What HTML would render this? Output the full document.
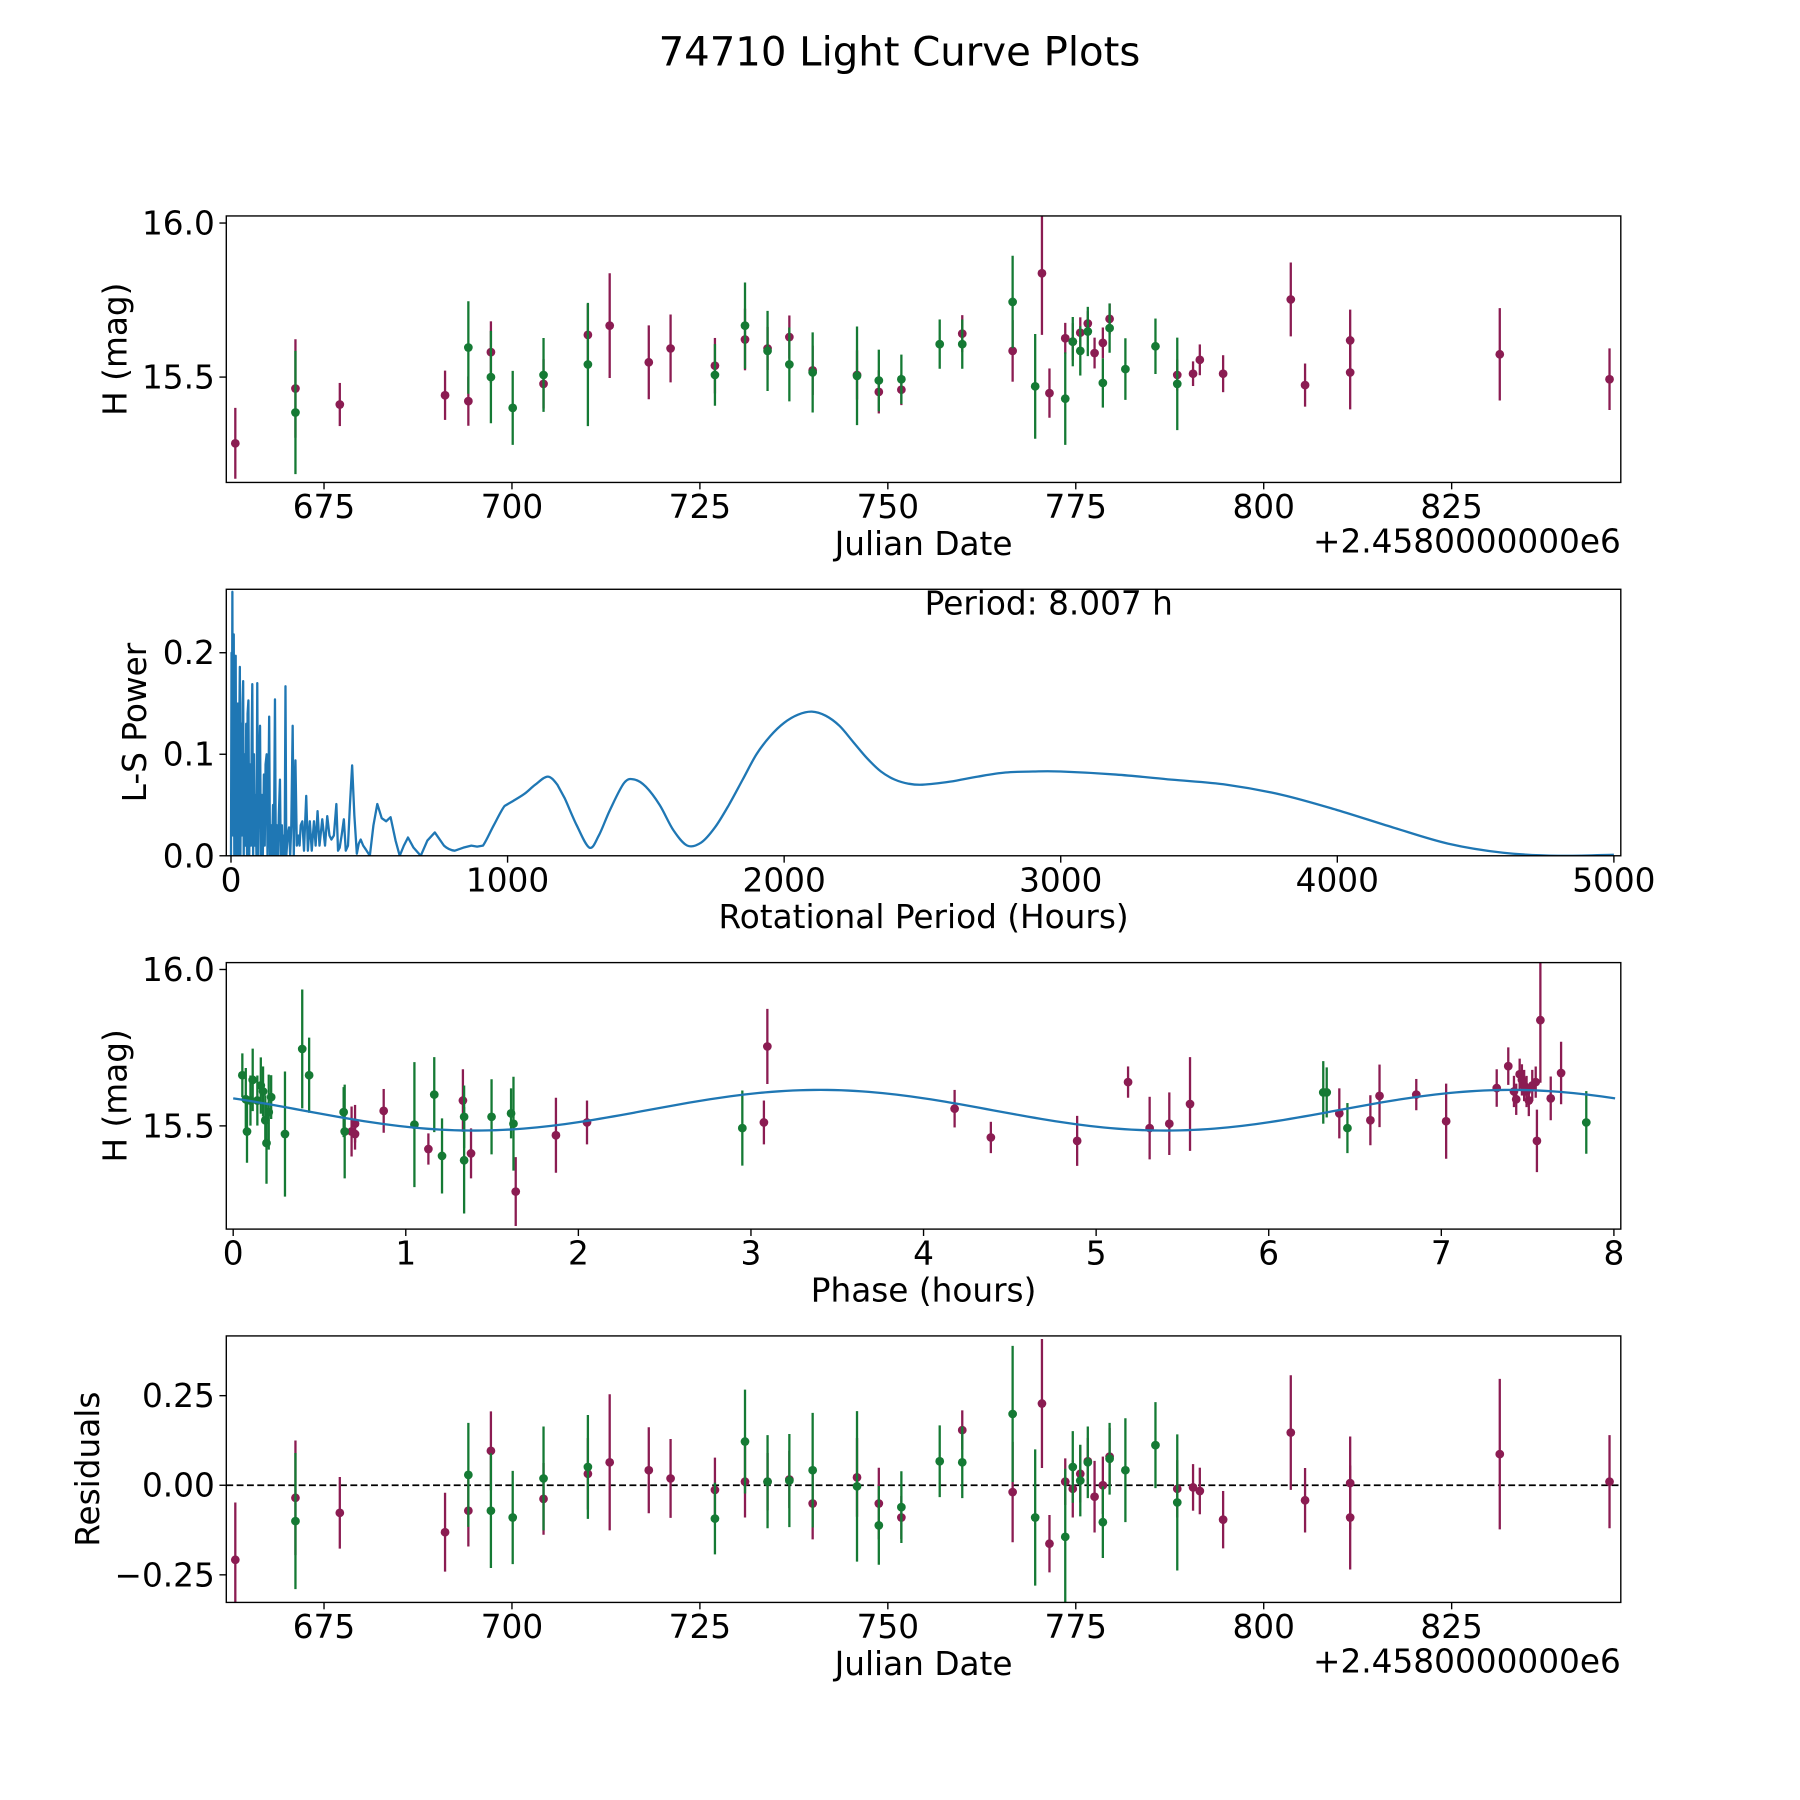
<!DOCTYPE html>
<html><head><meta charset="utf-8"><style>
html,body{margin:0;padding:0;background:#fff}
svg{display:block;font-family:"DejaVu Sans","Liberation Sans",sans-serif}
</style></head><body>
<svg id="fig" width="1800" height="1800" viewBox="0 0 1567 1567" xmlns="http://www.w3.org/2000/svg">
<rect width="1567" height="1567" fill="#fff"/>
<text x="783" y="57" font-size="35" text-anchor="middle">74710 Light Curve Plots</text>
<g id="layer"></g>
</svg>
<script>
// ---------- Data ----------
const lcJdP=[663.2,671.2,677.1,691.1,694.2,697.2,704.2,710.1,713.0,718.2,721.1,727.0,731.0,734.0,736.9,740.0,745.9,748.8,751.8,759.9,766.6,770.5,771.5,773.6,774.6,775.6,776.6,777.5,778.6,779.5,788.5,790.6,791.5,794.6,803.6,805.5,811.5,811.5,831.4,846.0];
const lcMagP=[15.285,15.463,15.411,15.441,15.422,15.581,15.478,15.637,15.667,15.548,15.593,15.537,15.622,15.593,15.630,15.522,15.507,15.452,15.459,15.641,15.585,15.837,15.448,15.626,15.615,15.644,15.674,15.578,15.611,15.689,15.507,15.511,15.556,15.511,15.752,15.474,15.619,15.515,15.574,15.493];
const lcErrP=[.115,.16,.07,.08,.08,.1,.08,.1,.17,.12,.11,.09,.1,.07,.07,.08,.08,.07,.05,.06,.1,.2,.08,.05,.06,.05,.04,.05,.05,.05,.05,.04,.05,.06,.12,.07,.1,.12,.15,.1];
const lcJdG=[671.2,694.2,697.2,700.1,704.2,710.1,727.0,731.0,734.0,736.9,740.0,745.9,748.8,751.8,756.9,759.9,766.6,769.6,773.6,774.6,775.6,776.6,778.6,779.5,781.6,785.6,788.5];
const lcMagG=[15.385,15.596,15.5,15.4,15.507,15.541,15.507,15.667,15.585,15.541,15.515,15.504,15.489,15.493,15.607,15.607,15.744,15.47,15.43,15.615,15.585,15.648,15.481,15.659,15.526,15.6,15.478];
const lcErrG=[.2,.15,.15,.12,.12,.2,.1,.14,.13,.12,.13,.16,.1,.08,.08,.08,.15,.17,.15,.08,.08,.08,.08,.08,.1,.09,.15];

const resP=[-.208,-.035,-.077,-.131,-.071,.096,-.038,.032,.064,.042,.019,-.013,.010,.010,.016,-.051,.022,-.051,-.090,.154,-.019,.228,-.163,.010,-.010,.032,.067,-.032,0,.080,-.010,-.006,-.016,-.096,.147,-.042,.006,-.090,.087,.010];
const resErrP=[.16,.16,.1,.11,.1,.11,.1,.1,.19,.12,.11,.09,.1,.08,.08,.1,.11,.1,.06,.055,.14,.18,.08,.065,.08,.08,.065,.1,.08,.08,.08,.065,.065,.08,.16,.09,.13,.145,.21,.13];
const resG=[-.1,.029,-.071,-.090,.019,.051,-.093,.122,.010,.013,.042,-.003,-.112,-.061,.067,.064,.199,-.090,-.144,.051,.013,.064,-.103,.074,.042,.112,-.048];
const resErrG=[.19,.145,.16,.13,.145,.145,.1,.145,.13,.13,.16,.21,.11,.1,.1,.1,.19,.19,.19,.1,.1,.1,.1,.1,.145,.12,.19];

const phG=[0.053,0.073,0.08,0.1,0.113,0.14,0.16,0.173,0.186,0.193,0.206,0.22,0.3,0.4,0.44,0.64,0.646,1.05,1.165,1.21,1.338,1.338,1.497,1.61,1.624,2.95,6.316,6.336,6.456,7.84];
const phMagG=[15.662,15.585,15.482,15.581,15.647,15.581,15.629,15.61,15.518,15.445,15.544,15.592,15.474,15.746,15.662,15.544,15.482,15.504,15.6,15.404,15.529,15.39,15.529,15.54,15.507,15.493,15.607,15.607,15.493,15.511];
const phErrG=[.07,.1,.1,.08,.1,.08,.09,.08,.08,.13,.12,.07,.2,.19,.12,.08,.15,.2,.12,.12,.1,.17,.12,.08,.15,.12,.1,.08,.08,.1];
const phP=[0.686,0.706,0.706,0.872,1.131,1.331,1.378,1.637,1.87,2.05,3.075,3.095,4.18,4.39,4.89,5.185,5.31,5.424,5.544,6.409,6.589,6.642,6.855,7.028,7.321,7.388,7.421,7.434,7.454,7.467,7.48,7.494,7.507,7.527,7.547,7.554,7.574,7.634,7.694];
const phMagP=[15.482,15.507,15.474,15.548,15.426,15.581,15.412,15.29,15.47,15.511,15.511,15.754,15.555,15.463,15.452,15.64,15.493,15.507,15.57,15.54,15.518,15.596,15.6,15.515,15.621,15.691,15.61,15.585,15.665,15.647,15.629,15.61,15.581,15.629,15.64,15.452,15.838,15.588,15.669];
const phErrP=[.08,.06,.05,.07,.05,.1,.08,.11,.12,.07,.07,.12,.06,.05,.08,.05,.1,.1,.15,.08,.08,.1,.05,.12,.06,.06,.05,.05,.05,.05,.05,.05,.05,.05,.05,.1,.2,.07,.1];
const modelMean=15.55, modelAmp=0.065, modelPeakPhase=3.4, modelCycle=4.0035, modelPeriod=8.007;

const lsPeriod=[0,2,3,5,7,8,10,12,14,17,19,21,23,25,27,29,32,34,37,40,42,44,46,49,52,55,58,60,63,66,69,72,75,77,80,83,86,89,92,95,98,101,105,108,112,115,119,122,125,129,132,135,138,141,145,148,152,155,159,162,166,170,173,177,180,184,187,191,194,197,200,205,210,214,218,223,227,233,238,243,248,252,258,264,272,278,285,292,300,306,313,320,330,340,348,356,363,372,381,387,393,400,408,415,423,430,438,446,455,462,469,478,488,502,515,529,545,561,577,595,610,625,640,660,686,710,737,770,809,840,869,890,911,950,989,1020,1061,1100,1145,1180,1206,1250,1296,1330,1370,1422,1460,1500,1550,1600,1650,1700,1750,1800,1850,1900,1950,2000,2050,2100,2150,2200,2250,2300,2350,2400,2450,2500,2600,2700,2800,2900,3000,3200,3400,3600,3800,4000,4200,4400,4600,4800,5000];
const lsPower=[0,0.2,0.05,0.26,0.02,0.15,0.218,0,0.12,0.197,0,0.14,0.02,0.15,0,0.1,0.186,0,0.13,0.02,0.15,0.172,0,0.1,0.01,0.13,0,0.14,0.153,0,0.09,0.01,0.12,0.169,0,0.1,0.01,0.06,0,0.17,0,0.08,0.128,0,0.06,0,0.08,0.01,0.09,0.1,0,0.05,0.137,0,0.03,0,0.05,0,0.154,0,0.03,0,0.04,0.075,0,0.03,0,0.02,0,0.167,0,0.02,0.028,0,0.03,0.128,0,0.094,0.01,0.02,0.01,0.03,0.034,0.005,0.059,0.005,0.034,0.005,0.034,0.01,0.044,0.01,0.036,0.01,0.039,0.02,0.016,0.02,0.051,0.005,0.008,0.02,0.036,0.005,0.01,0.05,0.089,0.04,0.002,0.012,0.016,0.01,0.006,0,0.03,0.051,0.037,0.034,0.038,0.015,0,0.01,0.018,0.008,0,0.015,0.023,0.01,0.005,0.008,0.01,0.009,0.01,0.03,0.049,0.054,0.061,0.07,0.078,0.07,0.057,0.03,0.008,0.02,0.045,0.072,0.075,0.068,0.05,0.025,0.01,0.013,0.028,0.05,0.075,0.1,0.118,0.131,0.139,0.142,0.138,0.128,0.112,0.096,0.083,0.075,0.071,0.07,0.073,0.078,0.082,0.083,0.083,0.08,0.075,0.07,0.06,0.045,0.028,0.012,0.003,0,0.001];

const jdTicks=[675,700,725,750,775,800,825];
const magTicks=[15.5,16.0];
const lsXTicks=[0,1000,2000,3000,4000,5000];
const lsYTicks=[0,0.1,0.2];
const phTicks=[0,1,2,3,4,5,6,7,8];
const resTicks=[-0.25,0,0.25];

// ---------- Drawing ----------
const NS='http://www.w3.org/2000/svg';
const layer=document.getElementById('layer');
const PURPLE='#8b1c52', GREEN='#157a34', BLUE='#1f77b4';
const L=197,R=1411,H=232;
const TICK=28.5, LAB=28.5;
function mk(tag,attrs,parent){const e=document.createElementNS(NS,tag);for(const k in attrs)e.setAttribute(k,attrs[k]);(parent||layer).appendChild(e);return e;}
function lin(d0,d1,p0,p1){return v=>p0+(v-d0)*(p1-p0)/(d1-d0);}

function panel(name,top,xd,yd,xt,yt,xfmt,yfmt,xlabel,ylabel,ylx,offset){
  const g=mk('g',{});
  
  
  const sx=lin(xd[0],xd[1],L,R), sy=lin(yd[0],yd[1],top+H,top);
  const ax=mk('g',{},g);
  
  
  xt.forEach(t=>{const x=sx(t);
    mk('line',{x1:x,x2:x,y1:top+H,y2:top+H+6,stroke:'#000','stroke-width':1.2},ax);
    const tx=mk('text',{x:x,y:top+H+31,'font-size':TICK,'text-anchor':'middle'},ax);tx.textContent=xfmt(t);
    
    });
  const ay=mk('g',{},g);
  
  
  yt.forEach(t=>{const y=sy(t);
    mk('line',{x1:L-6,x2:L,y1:y,y2:y,stroke:'#000','stroke-width':1.2},ay);
    const tx=mk('text',{x:L-10,y:y+10,'font-size':TICK,'text-anchor':'end'},ay);tx.textContent=yfmt(t);
    
    });
  const xl=mk('text',{x:(L+R)/2,y:top+H+63,'font-size':LAB,'text-anchor':'middle'},g);xl.textContent=xlabel;
  
  
  const yl=mk('text',{x:ylx,y:top+H/2,'font-size':LAB,'text-anchor':'middle',transform:`rotate(-90 ${ylx} ${top+H/2})`},g);yl.textContent=ylabel;
  
  
  if(offset){const o=mk('text',{x:R,y:top+H+61,'font-size':LAB,'text-anchor':'end'},g);o.textContent='+2.4580000000e6';
    
    }
  const clip='clip-'+name;
  const cp=mk('clipPath',{id:clip},g);mk('rect',{x:L,y:top,width:R-L,height:H},cp);
  const plot=mk('g',{'clip-path':`url(#${clip})`},g);
  return {g,plot,sx,sy,top};
}
function frame(p){const f=mk('rect',{x:L,y:p.top,width:R-L,height:H,fill:'none',stroke:'#000','stroke-width':1.2},p.g);
  
  }
function errpts(p,xs,ys,es,color,label){
  const s=mk('g',{},p.plot);
  
  
  xs.forEach((x,i)=>{const cx=p.sx(x);
    mk('line',{x1:cx,x2:cx,y1:p.sy(ys[i]-es[i]),y2:p.sy(ys[i]+es[i]),stroke:color,'stroke-width':2},s);
    const c=mk('circle',{cx:cx,cy:p.sy(ys[i]),r:3.8,fill:color},s);
    
    });
}
const f1=v=>v.toFixed(1), f0=v=>String(v), f2=v=>(v<0?'\u2212':'')+Math.abs(v).toFixed(2);

// Panel 1
const p1=panel('light-curve-panel',188,[662.0,847.5],[15.158,16.023],jdTicks,magTicks,f0,f1,'Julian Date','H (mag)',110,true);
errpts(p1,lcJdP,lcMagP,lcErrP,PURPLE,'series-purple');
errpts(p1,lcJdG,lcMagG,lcErrG,GREEN,'series-green');
frame(p1);

// Panel 2 periodogram
const p2=panel('periodogram-panel',513,[-17,5025],[0,0.2625],lsXTicks,lsYTicks,f0,f1,'Rotational Period (Hours)','L-S Power',127,false);
const P=lsPeriod.map((x,i)=>[p2.sx(x),p2.sy(lsPower[i])]);
let d='M'+P[0][0]+','+P[0][1];
for(let i=0;i<P.length-1;i++){
  const p0=P[Math.max(0,i-1)],a=P[i],b=P[i+1],p3=P[Math.min(P.length-1,i+2)];
  if(b[0]-a[0]<8){d+=' L'+b[0]+','+b[1];continue;}
  const c1=[a[0]+(b[0]-p0[0])/6,a[1]+(b[1]-p0[1])/6],c2=[b[0]-(p3[0]-a[0])/6,b[1]-(p3[1]-a[1])/6];
  d+=` C${c1[0]},${c1[1]} ${c2[0]},${c2[1]} ${b[0]},${b[1]}`;
}
const ls=mk('path',{d:d,fill:'none',stroke:BLUE,'stroke-width':2,'stroke-linejoin':'round'},p2.plot);


const pt=mk('text',{x:913,y:535,'font-size':LAB,'text-anchor':'middle'},p2.g);pt.textContent='Period: 8.007 h';


frame(p2);

// Panel 3 phase
const p3=panel('phase-panel',838,[-0.04,8.04],[15.17,16.022],phTicks,magTicks,f0,f1,'Phase (hours)','H (mag)',110,false);
errpts(p3,phP,phMagP,phErrP,PURPLE,'phase-series-purple');
errpts(p3,phG,phMagG,phErrG,GREEN,'phase-series-green');
const mpts=[];for(let i=0;i<=200;i++){const ph=modelPeriod*i/200;mpts.push(p3.sx(ph)+','+p3.sy(modelMean+modelAmp*Math.cos(2*Math.PI*(ph-modelPeakPhase)/modelCycle)));}
const ml=mk('polyline',{points:mpts.join(' '),fill:'none',stroke:BLUE,'stroke-width':2},p3.plot);


frame(p3);

// Panel 4 residuals
const p4=panel('residuals-panel',1163,[662.0,847.5],[-0.327,0.4167],jdTicks,resTicks,f0,f2,'Julian Date','Residuals',86,true);
const zl=mk('line',{x1:L,x2:R,y1:p4.sy(0),y2:p4.sy(0),stroke:'#000','stroke-width':1.5,'stroke-dasharray':'6,3'},p4.plot);


errpts(p4,lcJdP,resP,resErrP,PURPLE,'residual-series-purple');
errpts(p4,lcJdG,resG,resErrG,GREEN,'residual-series-green');
frame(p4);
</script>
</body></html>
